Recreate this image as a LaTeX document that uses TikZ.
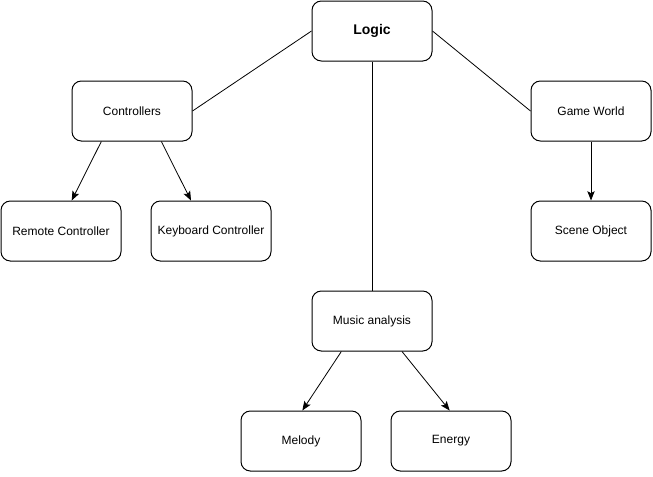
\documentclass[tikz,border=0pt]{standalone}
\usepackage{fontspec}
\setmainfont{Liberation Sans}
\usetikzlibrary{arrows.meta}
\begin{document}
\begin{tikzpicture}[x=0.75pt,y=-0.75pt,
  box/.style={draw,line width=0.75pt,rounded corners=7pt,minimum width=90pt,minimum height=45pt,inner sep=0pt,font=\fontsize{9}{11}\selectfont,align=center},
  conn/.style={line width=0.6pt},
  arr/.style={conn,-{Stealth[length=7pt,width=5.5pt,inset=1.5pt]}}]
\useasboundingbox (0,0) rectangle (653,476);
\node[box,font=\fontsize{10.5}{12}\selectfont\bfseries] (logic) at (372,31) {Logic};
\node[box] (ctrl) at (132,111) {Controllers};
\node[box] (world) at (591,111) {Game World};
\node[box] (remote) at (61,231) {Remote Controller};
\node[box] (keyb) at (211,231) {Keyboard Controller};
\node[box] (scene) at (591,231) {Scene Object};
\node[box] (music) at (372,321) {Music analysis};
\node[box] (melody) at (301,441) {Melody};
\node[box] (energy) at (451,441) {Energy};
\draw[conn] (logic.west) -- (ctrl.east);
\draw[conn] (logic.east) -- (world.west);
\draw[conn] (logic.south) -- (music.north);
\draw[arr] ([xshift=-23pt]ctrl.south) -- ([xshift=8pt]remote.north);
\draw[arr] ([xshift=22pt]ctrl.south) -- ([xshift=-15pt]keyb.north);
\draw[arr] (world.south) -- (scene.north);
\draw[arr] ([xshift=-23pt]music.south) -- ([xshift=1pt]melody.north);
\draw[arr] ([xshift=22.5pt]music.south) -- ([xshift=-1pt]energy.north);
\end{tikzpicture}
\end{document}
